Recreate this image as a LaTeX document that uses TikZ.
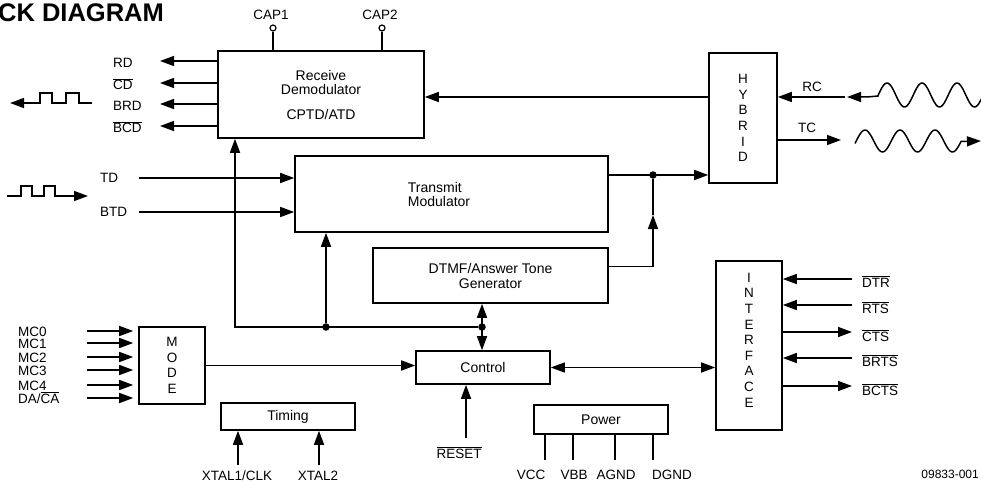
\documentclass[tikz,border=0pt]{standalone}
\usepackage{fontspec}
\setmainfont{Liberation Sans}
\usetikzlibrary{arrows.meta}
\newcommand{\boxfont}{\fontsize{14}{14}\selectfont}
\newcommand{\lblfont}{\fontsize{13.5}{13.5}\selectfont}
\newcommand{\stackfont}{\fontsize{13.5}{15.6}\selectfont}
\newcommand{\ovl}[1]{$\overline{\mbox{#1}}$}
\tikzset{
  blk/.style={draw, line width=1.6pt, inner sep=0pt, align=center, font=\boxfont},
  lbl/.style={inner sep=0pt, font=\lblfont},
  wire/.style={line width=1.5pt},
  sig/.style={wire, -{Triangle[length=14pt,width=10pt]}},
  bisig/.style={wire, {Triangle[length=14pt,width=10pt]}-{Triangle[length=14pt,width=10pt]}},
  jn/.style={circle, fill, inner sep=0pt, minimum size=7.5pt},
  capin/.style={circle, draw, line width=1.2pt, inner sep=0pt, minimum size=6pt}
}

\begin{document}
\begin{tikzpicture}[x=1pt, y=-1pt]
  \useasboundingbox (0,0) rectangle (981,481);

  \node[anchor=base west, inner sep=0pt, font=\fontsize{25.5}{25.5}\selectfont\bfseries] (title) at (-2,22) {CK DIAGRAM};

  % blocks
  \node[blk, minimum width=206pt, minimum height=87pt] (recv) at (321,94.5) {Receive\\Demodulator\\[11pt]CPTD/ATD};
  \node[blk, minimum width=313pt, minimum height=76pt] (xmit) at (451.5,194) {};
  \node[lbl, font=\boxfont, align=left] (xmittxt) at (439,194) {Transmit\\Modulator};
  \node[blk, minimum width=235pt, minimum height=55pt, font=\fontsize{14}{15}\selectfont] (dtmf) at (490.5,275.5) {DTMF/Answer Tone\\Generator};
  \node[blk, minimum width=68pt, minimum height=130pt, font=\stackfont] (hybrid) at (743,118) {H\\Y\\B\\R\\I\\D};
  \node[blk, minimum width=66pt, minimum height=77pt, font=\stackfont] (mode) at (172,365.5) {M\\O\\D\\E};
  \node[blk, minimum width=134pt, minimum height=33pt] (ctrl) at (483,367.5) {Control};
  \node[blk, minimum width=134pt, minimum height=27pt] (timing) at (288,416.5) {Timing};
  \node[blk, minimum width=134pt, minimum height=29pt] (power) at (601,419.5) {Power};
  \node[blk, minimum width=66pt, minimum height=169pt] (iface) at (749,345.5) {};
  \node[lbl, font=\stackfont, align=center] (ifacetxt) at (749,340) {I\\N\\T\\E\\R\\F\\A\\C\\E};

  % capacitor pins
  \foreach \nm/\xx/\txt in {cap1/273/CAP1, cap2/382/CAP2} {
    \node[capin] (\nm) at (\xx,28) {};
    \node[lbl, anchor=base] (\nm-l) at (\xx-2,20) {\txt};
    \draw[wire] (\nm) -- (\nm |- recv.north);
  }

  % receive data outputs
  \foreach \nm/\yy/\txt in {rd/61/RD, cd/83/{\ovl{CD}}, brd/104/BRD, bcd/126/{\ovl{BCD}}} {
    \coordinate (\nm) at (160,\yy);
    \draw[sig] (recv.west |- \nm) -- (\nm);
    \node[lbl, anchor=base west] (\nm-l) at (113,\yy+7) {\txt};
  }
  \coordinate (rxw) at (92,103);
  \coordinate (rxa) at (10,103);
  \draw[sig] (rxw) -- (79,103) -- (79,93) -- (66,93) -- (66,103) -- (52,103) -- (52,93) -- (40,93) -- (40,103) -- (rxa);

  % transmit data inputs
  \coordinate (txw) at (7,196);
  \coordinate (txa) at (88,196);
  \draw[sig] (txw) -- (21,196) -- (21,186) -- (32,186) -- (32,196) -- (44,196) -- (44,186) -- (55,186) -- (55,196) -- (txa);
  \foreach \nm/\yy/\txt in {td/178/TD, btd/212/BTD} {
    \coordinate (\nm) at (139,\yy);
    \draw[sig] (\nm) -- (xmit.west |- \nm);
    \node[lbl, anchor=west] (\nm-l) at (100,\yy) {\txt};
  }

  % internal bus
  \node[jn] (j1) at (326,327) {};
  \node[jn] (j2) at (482,327) {};
  \coordinate (busl) at (235,327);
  \draw[sig] (j2) -- (busl) -- (busl |- recv.south);
  \draw[sig] (j1) -- (j1 |- xmit.south);
  \draw[bisig] (dtmf.south -| j2) -- (ctrl.north -| j2);

  % transmit path to hybrid
  \node[jn] (j3) at (653,175) {};
  \coordinate (dtmfup) at (653,215);
  \draw[sig] (xmit.east |- j3) -- (hybrid.west |- j3);
  \draw[sig] ([yshift=9pt]dtmf.east) -| (dtmfup);
  \draw[wire] (dtmfup) -- (j3);

  % line side
  \coordinate (rcin) at (845,97);
  \coordinate (tcout) at (841,140);
  \draw[sig] (hybrid.west |- rcin) -- (recv.east |- rcin);
  \draw[sig] (rcin) -- (hybrid.east |- rcin);
  \draw[sig] (hybrid.east |- tcout) -- (tcout);
  \node[lbl, anchor=base] (rc-l) at (812,92) {RC};
  \node[lbl, anchor=base] (tc-l) at (807,133) {TC};
  \coordinate (rcw) at (847,97);
  \draw[wire, {Triangle[length=14pt,width=10pt]}-] (rcw) -- (867,97) -- (878,96) -- plot[domain=878:990, samples=80, smooth] (\x, {95-12*cos(10.2857*(\x-887))});
  \coordinate (tca) at (981,141);
  \draw[sig] plot[domain=855:961, samples=80, smooth] (\x, {141-11*cos(10.2857*(\x-865))}) -- (tca);

  % mode inputs
  \foreach \nm/\yy/\txt in {mc0/331/MC0, mc1/343/MC1, mc2/357/MC2, mc3/370/MC3, mc4/385/MC4, daca/398/{DA/\ovl{CA}}} {
    \coordinate (\nm) at (87,\yy);
    \draw[sig, shorten >=5pt] (\nm) -- (mode.west |- \nm);
    \node[lbl, anchor=base west] (\nm-l) at (18,\yy+5.5) {\txt};
  }
  \draw[sig] (mode.east) -- (ctrl.west |- mode.east);

  % timing inputs
  \foreach \nm/\xx/\txt in {xtal1/238/{XTAL1/CLK}, xtal2/319/XTAL2} {
    \coordinate (\nm) at (\xx,465);
    \draw[sig] (\nm) -- (\nm |- timing.south);
    \node[lbl, anchor=base] (\nm-l) at (\xx-1,480) {\txt};
  }

  % reset
  \coordinate (rst) at (466,438);
  \draw[sig] (rst) -- (rst |- ctrl.south);
  \node[lbl, anchor=base] (rst-l) at (459,458) {\ovl{RESET}};

  % power pins
  \foreach \nm/\xx/\lx/\txt in {vcc/545/531/VCC, vbb/573/574/VBB, agnd/615/616/AGND, dgnd/653/672/DGND} {
    \coordinate (\nm) at (\xx,460);
    \draw[wire] (\nm |- power.south) -- (\nm);
    \node[lbl, anchor=base] (\nm-l) at (\lx,479) {\txt};
  }

  % control to interface
  \draw[bisig] (ctrl.east) -- (iface.west |- ctrl.east);

  % interface signals
  \foreach \nm/\yy/\txt in {dtr/279/DTR, rts/305/RTS, brts/358/BRTS} {
    \coordinate (\nm) at (852,\yy);
    \draw[sig] (\nm) -- (iface.east |- \nm);
    \node[lbl, anchor=base west] (\nm-l) at (862,\yy+8) {\ovl{\txt}};
  }
  \foreach \nm/\yy/\txt in {cts/332/CTS, bcts/386/BCTS} {
    \coordinate (\nm) at (852,\yy);
    \draw[sig] (iface.east |- \nm) -- (\nm);
    \node[lbl, anchor=base west] (\nm-l) at (862,\yy+9) {\ovl{\txt}};
  }

  \node[lbl, anchor=base east, font=\fontsize{12}{12}\selectfont] (figno) at (979,478) {09833-001};
\end{tikzpicture}
\end{document}
